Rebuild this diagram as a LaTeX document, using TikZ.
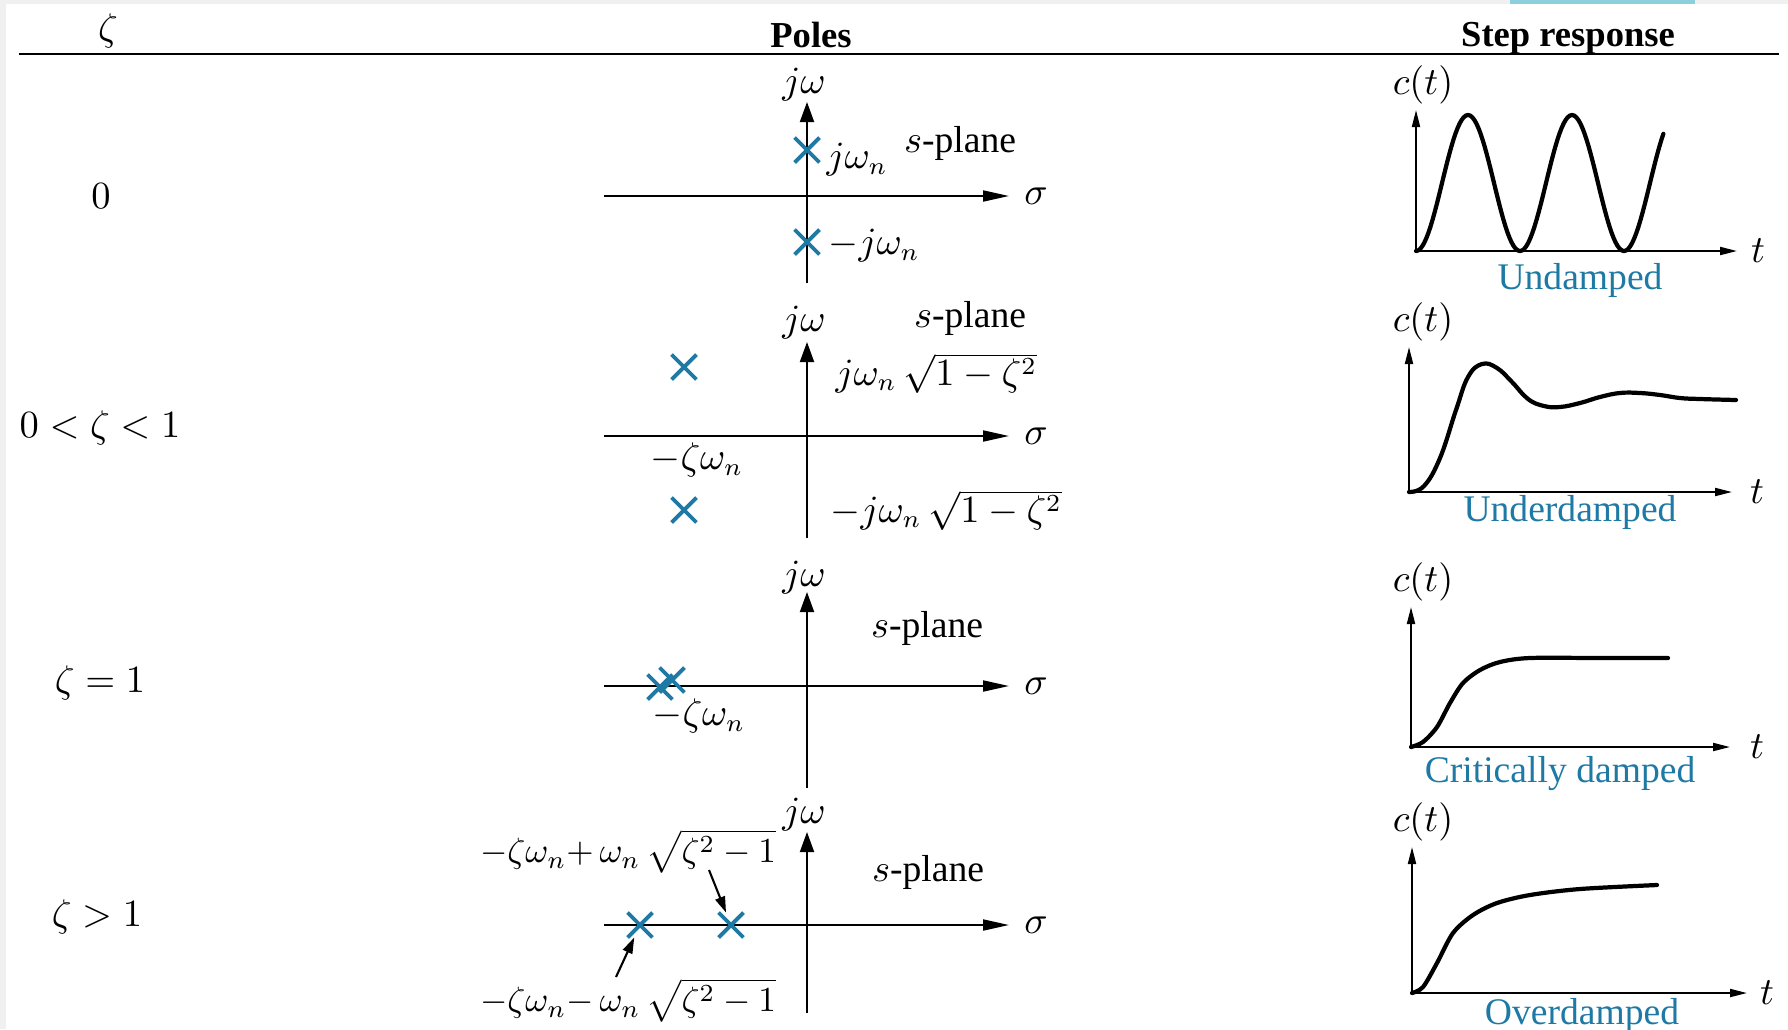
\documentclass[tikz,border=0pt]{standalone}
\usepackage{fontspec}
\setmainfont{Liberation Serif}
\usetikzlibrary{arrows.meta,shapes.misc}
\definecolor{poleblue}{RGB}{30,122,164}
\definecolor{tabcyan}{RGB}{140,208,222}

\begin{document}
\begin{tikzpicture}[x=0.1mm, y=-0.1mm,
    lbl/.style={font=\fontsize{10.7}{13}\selectfont, inner sep=0pt},
    small/.style={font=\fontsize{10.2}{12}\selectfont, inner sep=0pt},
    head/.style={font=\fontsize{10.4}{13}\selectfont\bfseries, inner sep=0pt},
    case/.style={lbl, text=poleblue},
    pole/.style={cross out, draw=poleblue, line width=1.1pt, minimum size=2.1mm, inner sep=0pt},
    haxis/.style={line width=0.55pt, -{Triangle[length=2.6mm, width=1.1mm]}},
    vaxis/.style={line width=0.55pt, -{Triangle[length=2mm, width=1.4mm]}},
    taxis/.style={line width=0.55pt, -{Triangle[length=1.7mm, width=0.8mm]}},
    pointer/.style={line width=0.6pt, -{Triangle[length=1.6mm, width=1mm]}},
    resp/.style={line width=1.2pt, line join=round, line cap=round}]

    % page frame
    \useasboundingbox (0,0) rectangle (1788,1029);
    \fill[gray!12] (0,0) rectangle (1788,4);
    \fill[gray!12] (0,0) rectangle (6,1029);
    \fill[tabcyan] (1510,0) rectangle (1695,4);

    % table head
    \node[lbl] (hz) at (108,31) {$\zeta$};
    \node[head] (hp) at (811,35) {Poles};
    \node[head] (hs) at (1568,38) {Step response};
    \draw[line width=0.6pt] (19,54) -- (1779,54);

    % damping ratio column
    \node[lbl] (z1) at (101,196) {$0$};
    \node[lbl] (z2) at (100,428) {$0 < \zeta < 1$};
    \node[lbl] (z3) at (100,683) {$\zeta = 1$};
    \node[lbl] (z4) at (97,917) {$\zeta > 1$};

    % s-plane axes
    \foreach \r/\y/\ty/\by/\jy in {1/196/102/283/85, 2/436/342/538/323, 3/686/592/788/578, 4/925/832/1013/815} {
        \draw[haxis] (604,\y) -- (1009,\y);
        \draw[vaxis] (807,\by) -- (807,\ty);
        \node[lbl] (sig\r) at (1036,\y) {$\sigma$};
        \node[lbl] (jw\r) at (804,\jy) {$j\omega$};
    }

    % undamped poles
    \node[pole] (p11) at (807,150) {};
    \node[pole] (p12) at (807,242) {};
    \node[lbl, anchor=west] (w11) at (826,160) {$j\omega_n$};
    \node[lbl, anchor=west] (w12) at (828,246) {$-j\omega_n$};
    \node[lbl] (s1) at (960,143) {$s$-plane};

    % underdamped poles
    \node[pole] (p21) at (684,367) {};
    \node[pole] (p22) at (684,510) {};
    \node[lbl, anchor=west] (w21) at (835,373) {$j\omega_n\,\sqrt{1-\zeta^2}$};
    \node[lbl, anchor=west] (w22) at (830,510) {$-j\omega_n\,\sqrt{1-\zeta^2}$};
    \node[lbl] (d2) at (697,460) {$-\zeta\omega_n$};
    \node[lbl] (s2) at (970,318) {$s$-plane};

    % critically damped poles
    \node[pole] (p31) at (660,687) {};
    \node[pole] (p32) at (672,680) {};
    \node[lbl] (d3) at (699,716) {$-\zeta\omega_n$};
    \node[lbl] (s3) at (927,628) {$s$-plane};

    % overdamped poles
    \node[pole] (p41) at (640,925) {};
    \node[pole] (p42) at (731,925) {};
    \node[small] (u4) at (628,851) {$-\zeta\omega_n{+}\,\omega_n\,\sqrt{\zeta^2-1}$};
    \node[small] (l4) at (628,1000) {$-\zeta\omega_n{-}\,\omega_n\,\sqrt{\zeta^2-1}$};
    \node[lbl] (s4) at (928,872) {$s$-plane};
    \coordinate (ua) at (709,870);
    \coordinate (la) at (616,977);
    \draw[pointer] (ua) -- (p42);
    \draw[pointer] (la) -- (p41);

    % step response axes
    \foreach \r/\ox/\oy/\vt/\hx/\cy/\tx in {1/1416/251/110/1737/85/1758, 2/1409/492/347/1732/322/1757, 3/1411/747/607/1730/582/1757, 4/1412/993/847/1747/822/1767} {
        \draw[taxis] (\ox,\oy) -- (\ox,\vt);
        \draw[taxis] (\ox,\oy) -- (\hx,\oy);
        \node[lbl] (c\r) at (1423,\cy) {$c(t)$};
        \node[lbl] (t\r) at (\tx,\oy) {$t$};
    }

    % step responses
    \draw[resp] plot[domain=0:2.38, samples=120] ({1416+104*\x}, {251-68*(1-cos(360*\x))});
    \draw[resp] plot[smooth, tension=0.7] coordinates {(1409,492) (1424,486) (1440,458) (1456,410) (1468,377) (1482,364) (1497,368) (1512,382) (1528,399) (1544,406) (1560,407) (1580,403) (1600,397) (1620,393) (1640,393) (1660,395) (1680,398) (1700,399) (1736,400)};
    \draw[resp] plot[smooth] coordinates {(1411,747) (1423,742) (1437,727) (1450,703) (1463,683) (1480,670) (1500,662) (1530,658) (1600,658) (1668,658)};
    \draw[resp] plot[smooth] coordinates {(1412,993) (1423,987) (1437,963) (1453,933) (1473,915) (1497,903) (1530,895) (1580,889) (1657,885)};

    \node[case] (k1) at (1580,280) {Undamped};
    \node[case] (k2) at (1570,512) {Underdamped};
    \node[case] (k3) at (1560,773) {Critically damped};
    \node[case] (k4) at (1582,1015) {Overdamped};
\end{tikzpicture}
\end{document}
